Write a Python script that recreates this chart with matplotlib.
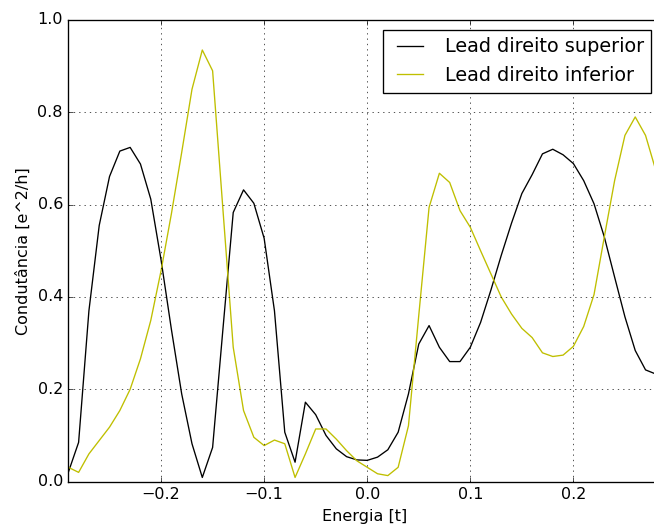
import matplotlib
matplotlib.use('Agg')
import numpy as np
import matplotlib.pyplot as plt

plt.style.use('classic')
plt.rcParams['font.family'] = ['DejaVu Sans']

# energia de -0.29 a 0.28, passo 0.01
energia = np.round(np.arange(-0.29, 0.2801, 0.01), 2)

# condutancia
superior = [0.02, 0.085, 0.37, 0.555, 0.661, 0.716, 0.724, 0.688, 0.612, 0.48,
            0.33, 0.19, 0.082, 0.009, 0.074, 0.33, 0.583, 0.632, 0.603, 0.527,
            0.37, 0.107, 0.042, 0.172, 0.145, 0.10, 0.071, 0.054, 0.047, 0.046,
            0.053, 0.069, 0.107, 0.19, 0.298, 0.338, 0.291, 0.26, 0.26, 0.291,
            0.345, 0.415, 0.49, 0.56, 0.624, 0.665, 0.71, 0.72, 0.708, 0.689,
            0.652, 0.602, 0.53, 0.443, 0.357, 0.284, 0.242, 0.233]
inferior = [0.031, 0.02, 0.06, 0.089, 0.118, 0.154, 0.2, 0.266, 0.349, 0.457,
            0.58, 0.713, 0.85, 0.935, 0.89, 0.59, 0.291, 0.154, 0.096, 0.078,
            0.09, 0.082, 0.009, 0.06, 0.114, 0.114, 0.092, 0.067, 0.045, 0.031,
            0.017, 0.013, 0.031, 0.121, 0.36, 0.594, 0.668, 0.648, 0.587, 0.551,
            0.50, 0.45, 0.40, 0.363, 0.332, 0.312, 0.279, 0.271, 0.274, 0.293,
            0.336, 0.405, 0.53, 0.652, 0.75, 0.79, 0.75, 0.674]

DPI = 96
fig = plt.figure(figsize=(654./DPI, 526./DPI), dpi=DPI, facecolor='white')
ax = fig.add_axes([68.3/654, 44.4/526, (661-68.3)/654, 461.6/526])

ax.plot(energia, superior, color='k', linewidth=1.0, label='Lead direito superior')
ax.plot(energia, inferior, color='y', linewidth=1.0, label='Lead direito inferior')

ax.set_xlim(-0.29, 0.285)
ax.set_ylim(0, 1.0)
ax.set_xticks([-0.2, -0.1, 0.0, 0.1, 0.2])
ax.set_yticks([0.0, 0.2, 0.4, 0.6, 0.8, 1.0])
ax.set_xlabel('Energia [t]')
ax.set_ylabel('Condutância [e^2/h]')
ax.grid(True)
ax.legend(loc='upper right')

fig.savefig('out.png', dpi=DPI, facecolor='white')
